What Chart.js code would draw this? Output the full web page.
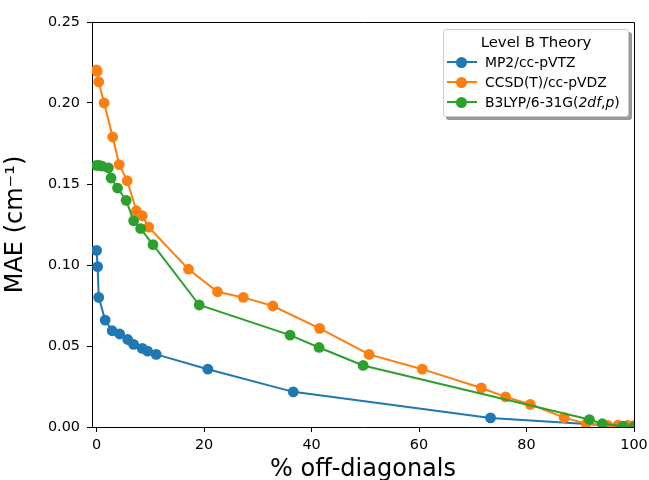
<!DOCTYPE html>
<html>
<head>
<meta charset="utf-8">
<script src="https://cdn.jsdelivr.net/npm/chart.js@4/dist/chart.umd.min.js"></script>
<style>
	body { margin: 0; background: #fff; font-family: "DejaVu Sans", sans-serif; }
	#wrap { position: relative; width: 649px; height: 480px; overflow: hidden; }
	#legend {
		position: absolute; left: 443px; top: 29px; width: 184px; height: 86px;
		background: #fff; border: 1px solid #ccc; border-radius: 3px;
		box-shadow: 3px 3px 0 #999; font-size: 13.9px; color: #000;
	}
	#legend .ttl { position: absolute; left: 0; right: 0; top: 2px; height: 20px; line-height: 20px; text-align: center; font-size: 14.9px; }
	#legend .row { position: absolute; left: 0; right: 0; height: 20px; }
	#legend .ln { position: absolute; left: 3px; top: 9px; width: 30px; height: 2px; }
	#legend .dot { position: absolute; left: 12px; top: 4.5px; width: 11px; height: 11px; border-radius: 50%; }
	#legend .lbl { position: absolute; left: 41px; top: 0; line-height: 20px; white-space: nowrap; }
</style>
</head>
<body>
<div id="wrap">
	<canvas id="c" width="649" height="480"></canvas>
	<div id="legend"></div>
</div>
<script>
// % off-diagonals vs MAE for three level-B theories
const mp2X = [0.0, 0.2, 0.4, 1.6, 2.9, 4.3, 5.8, 6.9, 8.5, 9.5, 11.1, 20.7, 36.6, 73.3, 100];
const mp2Y = [0.109, 0.099, 0.080, 0.066, 0.0594, 0.0574, 0.054, 0.051, 0.0485, 0.0468, 0.0448, 0.0357, 0.0217, 0.0056, 0.0];

const ccsdX = [0.0, 0.1, 0.4, 1.4, 3.0, 4.2, 5.7, 7.4, 8.5, 9.7, 17.1, 22.5, 27.3, 32.8, 41.5, 50.7, 60.6, 71.6, 76.1, 80.7, 87.0, 91.1, 95.1, 97.0, 98.8, 100];
const ccsdY = [0.2205, 0.2195, 0.213, 0.200, 0.179, 0.162, 0.152, 0.1335, 0.1304, 0.1234, 0.0974, 0.0835, 0.080, 0.0747, 0.0609, 0.0448, 0.0357, 0.0241, 0.0186, 0.014, 0.0058, 0.002, 0.001, 0.0012, 0.001, 0.001];

const b3lypX = [0.0, 0.5, 1.0, 2.2, 2.7, 3.9, 5.5, 6.9, 8.2, 10.5, 19.1, 36.0, 41.4, 49.6, 91.7, 94.1, 98.0, 100];
const b3lypY = [0.1615, 0.1615, 0.161, 0.160, 0.1537, 0.1475, 0.1399, 0.1273, 0.1225, 0.1126, 0.0753, 0.0567, 0.0491, 0.038, 0.0046, 0.002, 0.0005, 0.0];

const seriesNames = ["MP2/cc-pVTZ", "CCSD(T)/cc-pVDZ", "B3LYP/6-31G(<i>2df</i>,<i>p</i>)"];
const seriesColors = ["#1f77b4", "#ff7f0e", "#2ca02c"];
const xTicks = [0, 20, 40, 60, 80, 100];
const yTicks = [0, 0.05, 0.10, 0.15, 0.20, 0.25];

const pts = (xs, ys) => xs.map((x, i) => ({ x, y: ys[i] }));

function ds(i, xs, ys) {
	return {
		label: seriesNames[i],
		data: pts(xs, ys),
		borderColor: seriesColors[i],
		backgroundColor: seriesColors[i],
		borderWidth: 2,
		pointRadius: 5.4,
		pointBorderWidth: 0,
		pointHoverRadius: 5.4,
		tension: 0,
		clip: 0,
		order: 2 - i,
	};
}

const tickFont = { family: "DejaVu Sans", size: 14.4 };
const titleFont = { family: "DejaVu Sans", size: 24 };

new Chart(document.getElementById("c"), {
	type: "line",
	data: {
		datasets: [ds(0, mp2X, mp2Y), ds(1, ccsdX, ccsdY), ds(2, b3lypX, b3lypY)],
	},
	options: {
		responsive: false,
		animation: false,
		events: [],
		layout: { padding: { left: 0, right: 15, top: 22, bottom: 0 } },
		plugins: { legend: { display: false }, tooltip: { enabled: false } },
		scales: {
			x: {
				type: "linear",
				min: -0.85,
				max: 100,
				afterBuildTicks: (s) => { s.ticks = xTicks.map((v) => ({ value: v })); },
				afterFit: (s) => { s.height = 53; s.paddingLeft = 0; s.paddingRight = 0; },
				ticks: { color: "#000", font: tickFont, padding: 5, maxRotation: 0, callback: (v) => String(v) },
				grid: { drawOnChartArea: false, tickLength: 5, color: "#000" },
				border: { display: true, color: "#000", width: 1 },
				title: { display: true, text: "% off-diagonals", color: "#000", font: titleFont, padding: { top: 0, bottom: -4 } },
			},
			y: {
				min: 0,
				max: 0.25,
				afterBuildTicks: (s) => { s.ticks = yTicks.map((v) => ({ value: v })); },
				afterFit: (s) => { s.width = 92; s.paddingTop = 0; s.paddingBottom = 0; },
				ticks: { color: "#000", font: tickFont, padding: 7, callback: (v) => v.toFixed(2) },
				grid: { drawOnChartArea: false, tickLength: 5, color: "#000" },
				border: { display: true, color: "#000", width: 1 },
				title: { display: true, text: "MAE (cm⁻¹)", color: "#000", font: titleFont, padding: { top: 1, bottom: 0 } },
			},
		},
	},
	plugins: [{
		id: "frame",
		afterDraw(chart) {
			const { ctx, chartArea: a } = chart;
			ctx.save();
			ctx.strokeStyle = "#000";
			ctx.lineWidth = 1;
			ctx.beginPath();
			ctx.moveTo(a.left, a.top + 0.5);
			ctx.lineTo(a.right + 0.5, a.top + 0.5);
			ctx.lineTo(a.right + 0.5, a.bottom);
			ctx.stroke();
			ctx.restore();
		},
	}],
});

// legend box (html so the italics stay real text)
const rowTops = [22, 42, 62];
document.getElementById("legend").innerHTML =
	`<div class="ttl">Level B Theory</div>` +
	seriesNames.map((n, i) => `
		<div class="row" style="top:${rowTops[i]}px">
			<span class="ln" style="background:${seriesColors[i]}"></span>
			<span class="dot" style="background:${seriesColors[i]}"></span>
			<span class="lbl">${n}</span>
		</div>`).join("");
</script>
</body>
</html>
